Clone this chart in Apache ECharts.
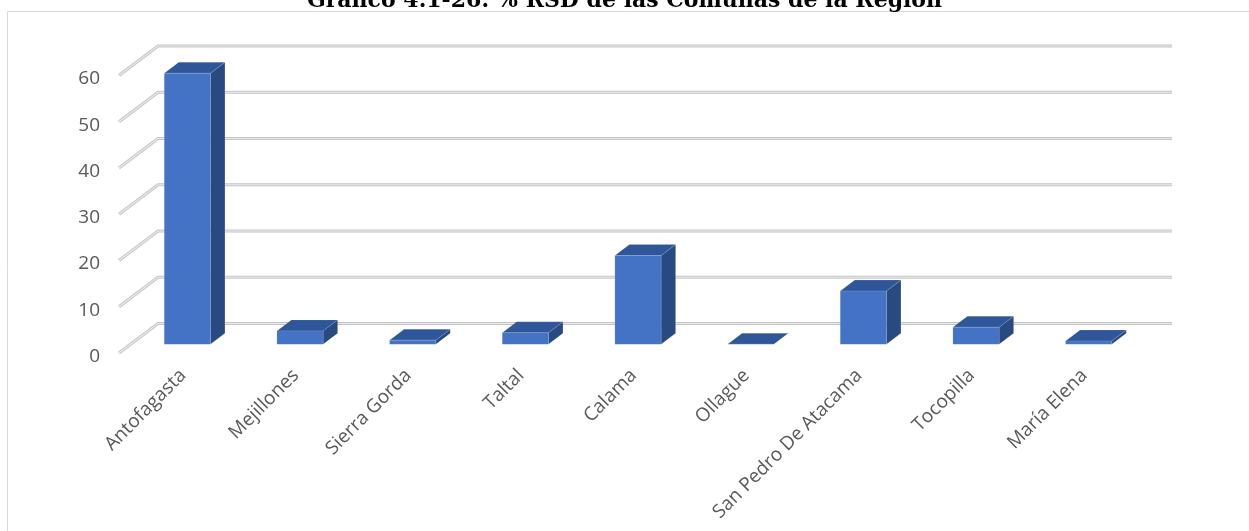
<!DOCTYPE html>
<html>
<head>
<meta charset="utf-8">
<script src="https://cdn.jsdelivr.net/npm/echarts@6/dist/echarts.min.js"></script>
<style>
html,body{margin:0;padding:0;background:#fff;}
#chart{width:1249px;height:531px;}
</style>
</head>
<body>
<div id="chart"></div>
<script>
const titleText = 'Gráfico 4.1-26: % RSD de las Comunas de la Región';
const categories = ['Antofagasta','Mejillones','Sierra Gorda','Taltal','Calama','Ollague','San Pedro De Atacama','Tocopilla','María Elena'];
const values = [58.6, 2.9, 0.9, 2.5, 19.2, 0, 11.5, 3.7, 0.7];
const yTicks = [0, 10, 20, 30, 40, 50, 60];

const FONT = "'Open Sans', 'Noto Sans', sans-serif";
const LABEL_COLOR = '#595959';
// oblique-projection offsets (pixels)
const WALL_DX = 39, WALL_DY = -29.5;   // front edge -> back wall
const BAR_DX = 14.5, BAR_DY = -11;     // bar depth

const chart = echarts.init(document.getElementById('chart'), null, {renderer: 'canvas'});

const option = {
  backgroundColor: '#ffffff',
  animation: false,
  title: {
    text: titleText,
    left: 'center',
    top: -15,
    textStyle: {fontFamily: "'DejaVu Serif', serif", fontWeight: 'bold', fontSize: 22, color: '#000000'}
  },
  graphic: [{
    type: 'rect',
    shape: {x: 7.5, y: 11.5, width: 1400, height: 700},
    style: {fill: null, stroke: '#d9d9d9', lineWidth: 1},
    z: -10, silent: true
  }],
  grid: [
    // bar front plane
    {left: 131, right: 104, top: 66.8, bottom: 186.7},
    // front edge plane
    {left: 119, right: 116, top: 75.5, bottom: 178}
  ],
  xAxis: [
    {
      gridIndex: 0, type: 'category', data: categories,
      axisLine: {show: false}, axisTick: {show: false},
      axisLabel: {rotate: 45, margin: 24, color: LABEL_COLOR, fontSize: 19, fontFamily: FONT, interval: 0,
                  padding: [0, 6, 0, 0]},
      splitLine: {show: false}
    },
    {gridIndex: 1, type: 'value', min: 0, max: 1, show: false}
  ],
  yAxis: [
    {gridIndex: 0, type: 'value', min: 0, max: 60, interval: 10, show: false},
    {
      gridIndex: 1, type: 'value', min: 0, max: 60, interval: 10,
      axisLine: {show: false}, axisTick: {show: false}, splitLine: {show: false},
      axisLabel: {margin: 19, color: LABEL_COLOR, fontSize: 19, fontFamily: FONT,
                  verticalAlign: 'top', lineHeight: 7}
    }
  ],
  series: [
    {
      type: 'custom',
      xAxisIndex: 1, yAxisIndex: 1,
      z: 1,
      data: yTicks.map(v => [0, v]),
      encode: {x: 0, y: 1},
      renderItem: function (params, api) {
        const v = api.value(1);
        const a = api.coord([0, v]);
        const c = api.coord([1, v]);
        const pts = [[a[0], a[1]], [a[0] + WALL_DX, a[1] + WALL_DY], [c[0] + WALL_DX, c[1] + WALL_DY]];
        return {
          type: 'group',
          children: [
            {type: 'polyline', shape: {points: pts}, style: {fill: null, stroke: '#c4c4c4', lineWidth: 3.2}},
            {type: 'polyline', shape: {points: pts}, style: {fill: null, stroke: '#ebebeb', lineWidth: 1.2}}
          ]
        };
      }
    },
    {
      type: 'custom',
      xAxisIndex: 0, yAxisIndex: 0,
      z: 5,
      data: values.map((v, i) => [i, v]),
      encode: {x: 0, y: 1},
      renderItem: function (params, api) {
        const i = api.value(0), v = api.value(1);
        const p0 = api.coord([i, 0]);
        const p1 = api.coord([i, v]);
        const w = api.size([1, 0])[0] * 0.41;
        const l = p0[0] - w / 2, r = p0[0] + w / 2, b = p0[1], t = p1[1];
        const edge = {stroke: 'rgba(255,255,255,0.18)', lineWidth: 0.6};
        return {
          type: 'group',
          children: [
            {type: 'polygon', shape: {points: [[r, t], [r + BAR_DX, t + BAR_DY], [r + BAR_DX, b + BAR_DY], [r, b]]},
             style: Object.assign({fill: '#294a80'}, edge)},
            {type: 'polygon', shape: {points: [[l, t], [l + BAR_DX, t + BAR_DY], [r + BAR_DX, t + BAR_DY], [r, t]]},
             style: Object.assign({fill: '#30569a'}, edge)},
            {type: 'polygon', shape: {points: [[l, t], [r, t], [r, b], [l, b]]},
             style: Object.assign({fill: '#4472c4'}, edge)}
          ]
        };
      }
    }
  ]
};
chart.setOption(option);
</script>
</body>
</html>
